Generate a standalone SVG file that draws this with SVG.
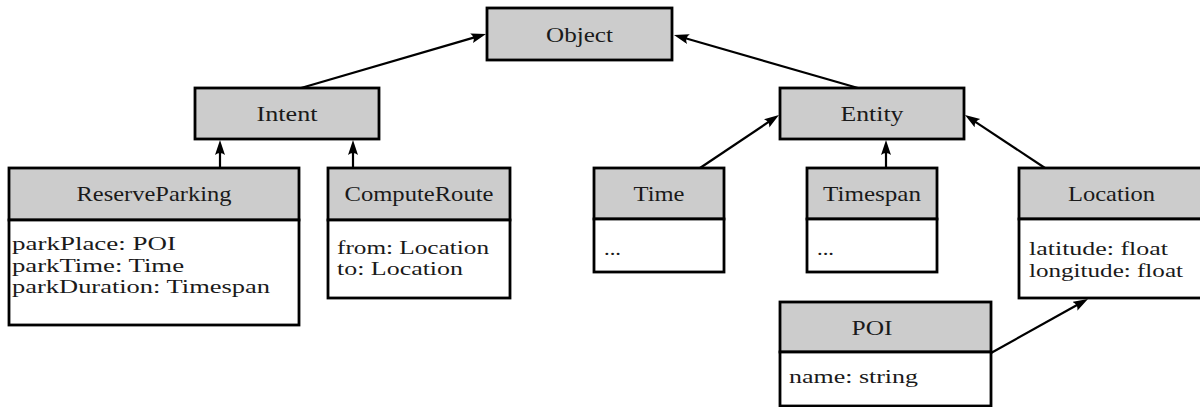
<svg xmlns="http://www.w3.org/2000/svg" width="1200" height="407" viewBox="0 0 1200 407">
  <style>
    text { font-family: "Liberation Serif", "Times New Roman", serif; font-size: 21px; fill: #1a1a1a; }
    .name { text-anchor: middle; }
    .attr { font-size: 19px; }
    .box { stroke: #000; stroke-width: 2.8; }
    .head { fill: #cccccc; }
    .body { fill: #ffffff; }
    .edge { stroke: #000; stroke-width: 2.2; fill: none; marker-end: url(#arrow); }
  </style>
  <defs>
    <!-- filled LaTeX-style arrow tip, tip at x=15 -->
    <marker id="arrow" markerUnits="userSpaceOnUse" markerWidth="16" markerHeight="11" refX="3" refY="5" orient="auto">
      <path d="M0,0 Q4,5 0,10 L15,5 Z" fill="#000"/>
    </marker>
  </defs>

  <!-- inheritance connectors (each ends 12px short of its tip; the marker covers the rest) -->
  <g id="connectors">
    <line class="edge" x1="301" y1="88" x2="474.5" y2="37.4"/>
    <line class="edge" x1="858" y1="88" x2="685.5" y2="38.3"/>
    <line class="edge" x1="220" y1="168" x2="220" y2="152"/>
    <line class="edge" x1="353" y1="168" x2="353" y2="152"/>
    <line class="edge" x1="700" y1="168" x2="769" y2="121.7"/>
    <line class="edge" x1="886" y1="168" x2="886" y2="152"/>
    <line class="edge" x1="1045" y1="168" x2="975" y2="121.6"/>
    <line class="edge" x1="991" y1="353" x2="1077.5" y2="304.8"/>
  </g>

  <g id="object">
    <rect class="box head" x="487" y="8" width="185" height="52"/>
    <text class="name" x="579.5" y="41.5" textLength="67" lengthAdjust="spacingAndGlyphs">Object</text>
  </g>

  <g id="intent">
    <rect class="box head" x="195" y="88" width="184" height="51"/>
    <text class="name" x="287" y="121" textLength="61" lengthAdjust="spacingAndGlyphs">Intent</text>
  </g>

  <g id="entity">
    <rect class="box head" x="780" y="88" width="184" height="51"/>
    <text class="name" x="872" y="121" textLength="63" lengthAdjust="spacingAndGlyphs">Entity</text>
  </g>

  <g id="reserve-parking">
    <rect class="box head" x="9" y="168" width="290" height="52"/>
    <rect class="box body" x="9" y="220" width="290" height="105"/>
    <text class="name" x="154" y="201" textLength="155" lengthAdjust="spacingAndGlyphs">ReserveParking</text>
    <text class="attr" x="12" y="250" textLength="164" lengthAdjust="spacingAndGlyphs">parkPlace: POI</text>
    <text class="attr" x="12" y="271.5" textLength="172" lengthAdjust="spacingAndGlyphs">parkTime: Time</text>
    <text class="attr" x="12" y="293" textLength="258" lengthAdjust="spacingAndGlyphs">parkDuration: Timespan</text>
  </g>

  <g id="compute-route">
    <rect class="box head" x="328" y="168" width="182" height="52"/>
    <rect class="box body" x="328" y="220" width="182" height="78"/>
    <text class="name" x="419" y="201" textLength="149" lengthAdjust="spacingAndGlyphs">ComputeRoute</text>
    <text class="attr" x="337" y="253.5" textLength="152" lengthAdjust="spacingAndGlyphs">from: Location</text>
    <text class="attr" x="337" y="275" textLength="126" lengthAdjust="spacingAndGlyphs">to: Location</text>
  </g>

  <g id="time">
    <rect class="box head" x="594" y="168" width="130" height="51"/>
    <rect class="box body" x="594" y="219" width="130" height="53"/>
    <text class="name" x="659" y="201" textLength="51" lengthAdjust="spacingAndGlyphs">Time</text>
    <text class="attr" x="604" y="255" textLength="17" lengthAdjust="spacingAndGlyphs">...</text>
  </g>

  <g id="timespan">
    <rect class="box head" x="807" y="168" width="130" height="51"/>
    <rect class="box body" x="807" y="219" width="130" height="53"/>
    <text class="name" x="872" y="201" textLength="98" lengthAdjust="spacingAndGlyphs">Timespan</text>
    <text class="attr" x="817" y="255" textLength="17" lengthAdjust="spacingAndGlyphs">...</text>
  </g>

  <g id="location">
    <rect class="box head" x="1019" y="168" width="185" height="51"/>
    <rect class="box body" x="1019" y="219" width="185" height="79"/>
    <text class="name" x="1111.5" y="201" textLength="87" lengthAdjust="spacingAndGlyphs">Location</text>
    <text class="attr" x="1029" y="255" textLength="139" lengthAdjust="spacingAndGlyphs">latitude: float</text>
    <text class="attr" x="1029" y="276.5" textLength="154" lengthAdjust="spacingAndGlyphs">longitude: float</text>
  </g>

  <g id="poi">
    <rect class="box head" x="780" y="302" width="211" height="50"/>
    <rect class="box body" x="780" y="352" width="211" height="54"/>
    <text class="name" x="872" y="335" textLength="41" lengthAdjust="spacingAndGlyphs">POI</text>
    <text class="attr" x="789" y="383" textLength="129" lengthAdjust="spacingAndGlyphs">name: string</text>
  </g>
</svg>
